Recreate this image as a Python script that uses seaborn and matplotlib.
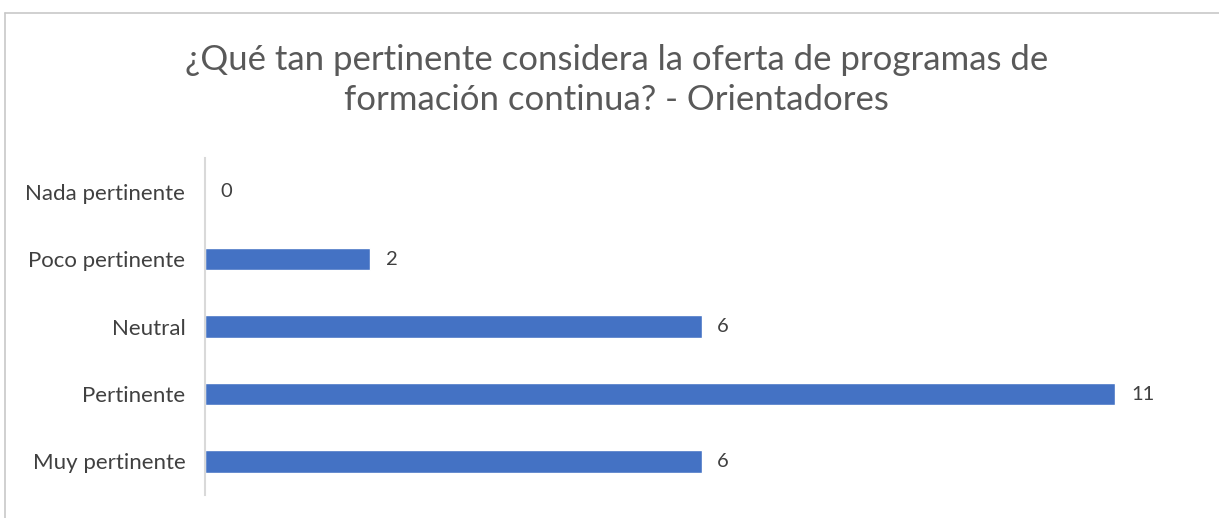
# Horizontal bar chart: pertinencia de la oferta de formación continua (Orientadores)

import matplotlib.pyplot as plt
import pandas as pd
import seaborn as sns

categorias = ['Nada pertinente', 'Poco pertinente', 'Neutral', 'Pertinente', 'Muy pertinente']
valores = [0, 2, 6, 11, 6]
titulo = '¿Qué tan pertinente considera la oferta de programas de\nformación continua? - Orientadores'

df = pd.DataFrame({'categoria': categorias, 'valor': valores})

sns.set_theme(style='white')
plt.rcParams['font.family'] = ['Lato', 'DejaVu Sans']

fig = plt.figure(figsize=(12.19, 5.18), dpi=100)
ax = fig.add_axes([0.168, 0.044, 0.815, 0.651])

sns.barplot(data=df, y='categoria', x='valor', color='#4472C4', width=0.33,
            saturation=1, ax=ax)

# Value labels next to each bar
for i, v in enumerate(df['valor']):
    ax.text(v + 0.19, i, str(v), va='center', ha='left', fontsize=14.5, color='#404040')

ax.set_xlim(0, 12)
ax.set_ylim(4.5, -0.5)
ax.set_xlabel('')
ax.set_ylabel('')
ax.set_xticks([])
ax.tick_params(axis='y', labelsize=16, labelcolor='#404040', length=0, pad=14)
for side in ['top', 'right', 'bottom']:
    ax.spines[side].set_visible(False)
ax.spines['left'].set_color('#d9d9d9')
ax.spines['left'].set_linewidth(1.5)

fig.text(0.506, 0.846, titulo, ha='center', va='center', fontsize=25,
         color='#595959', linespacing=1.3)

# Chart area border (left and top edges)
fig.add_artist(plt.Line2D([5 / 1219, 5 / 1219], [0, 1 - 13 / 518],
                          transform=fig.transFigure, color='#c8c8c8', lw=1.2))
fig.add_artist(plt.Line2D([5 / 1219, 1], [1 - 13 / 518, 1 - 13 / 518],
                          transform=fig.transFigure, color='#c8c8c8', lw=1.2))

fig.savefig('out.png', dpi=100)
